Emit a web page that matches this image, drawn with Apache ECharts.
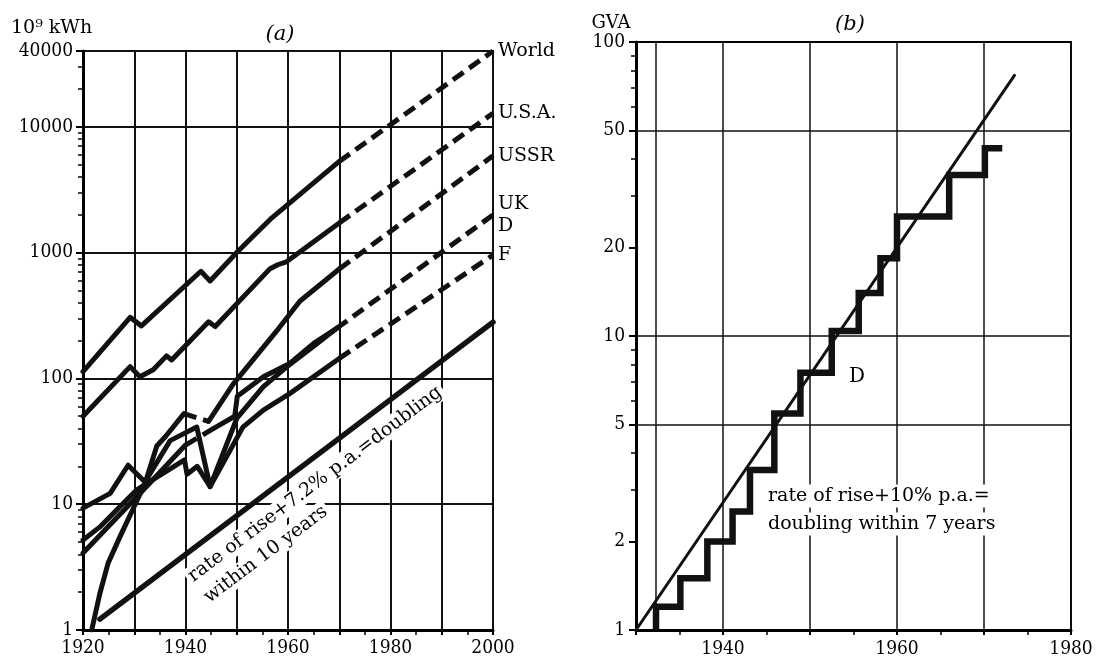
<!DOCTYPE html>
<html><head><meta charset="utf-8">
<script src="https://cdn.jsdelivr.net/npm/echarts@6/dist/echarts.min.js"></script>
<style>html,body{margin:0;padding:0;background:#fff}#c{width:1097px;height:661px}</style>
</head><body><div id="c"></div>
<script>
// ---------- Panel (a): electricity generation, 10^9 kWh ----------
const worldHist = [[1920,113],[1929.2,306],[1931.4,261],[1943,710],[1944.8,595],[1950,1000],[1956.8,1880],[1970,5300]];
const worldProj = [[1970,5300],[2000,40000]];
const usaHist = [[1920,50],[1929.2,124],[1931.1,103],[1933.7,117],[1936.3,151],[1937.3,140],[1944.5,282],[1945.8,258],[1956.5,745],[1958,800],[1959.7,845],[1970,1720]];
const usaProj = [[1970,1720],[2000,12800]];
const ussrHist1 = [[1921.7,1],[1923.3,1.96],[1924.9,3.4],[1927.2,5.5],[1930.1,9.8],[1932.1,14.6],[1934.4,29],[1936.1,34.5],[1939.7,52.5]];
const ussrGap = [[1939.7,52.5],[1944.5,45.5]];
const ussrHist2 = [[1944.5,45.5],[1949.3,90],[1958.2,250],[1962.3,410],[1970,740]];
const ussrProj = [[1970,740],[2000,5870]];
const ukHist1 = [[1920,4.1],[1931.8,13],[1940,29.5]];
const ukGap = [[1940,29.5],[1945.5,40]];
const ukHist2 = [[1945.5,40],[1949.6,50],[1950.1,72],[1955.2,103],[1960.4,132],[1965,190],[1969.5,250]];
const dHist = [[1920,9.3],[1925.3,12.2],[1928.8,20.4],[1932.1,15],[1937,32],[1942.2,41],[1944.8,13.8],[1950,48],[1955.2,86],[1959.7,123],[1965,180],[1969.5,250]];
const ukdProj = [[1969.5,250],[2000,1990]];
const fHist = [[1920,5.2],[1923.3,6.6],[1926.9,9.3],[1930.5,13],[1932.4,14.6],[1936,18],[1939.8,22.5],[1940.3,17.3],[1942.3,20],[1944.8,13.8],[1951.2,41],[1955.2,56],[1960.4,76],[1970,144]];
const fProj = [[1970,144],[2000,955]];
const rateA = [[1923.3,1.22],[2000,280]];

const aXLabels = [1920,1940,1960,1980,2000];
const aYLabels = [1,10,100,1000,10000,40000];
const aYMinor = [2,3,4,5,6,7,8,9,20,30,40,50,60,70,80,90,200,300,400,500,600,700,800,900,2000,3000,4000,5000,6000,7000,8000,9000,20000,30000];

// ---------- Panel (b): installed capacity D, GVA ----------
const stepYears  = [1932.3,1935.1,1938.2,1941.1,1943.1,1945.9,1948.9,1952.5,1955.6,1958.1,1960.0,1966.0,1970.1,1972.1];
const stepLevels = [1.0,1.2,1.5,2.0,2.53,3.5,5.45,7.5,10.4,14,18.4,25.5,35.3,43.5];
const trendB = [[1930,1.0],[1973.5,77]];

const bXLabels = [1940,1960,1980];
const bYLabels = [1,2,5,10,20,50,100];
const bYMinor = [3,4,6,7,8,9,30,40,60,70,80,90];
const bYGrid = [5,10,50];
const bXGrid = [1932.3];

const SERIF = '"DejaVu Serif", serif';
const NUMF = '"DejaVu Serif Condensed", "DejaVu Serif", serif';
const BLACK = '#111';

function solid(data, w, extra) {
  return Object.assign({type:'line', xAxisIndex:0, yAxisIndex:0, data:data, symbol:'none', silent:true,
    animation:false, emphasis:{disabled:true},
    lineStyle:{color:BLACK, width:w||5, join:'round', cap:'round'}}, extra||{});
}
function dashed(data, label, extra) {
  const s = solid(data, 5, extra);
  s.lineStyle = {color:BLACK, width:5, type:[13,7], cap:'butt', join:'round'};
  if (label) {
    s.endLabel = {show:true, formatter:label, distance:5, color:'#000', fontFamily:SERIF, fontSize:19, lineHeight:22, align:'left'};
  }
  return s;
}

const chart = echarts.init(document.getElementById('c'), null, {renderer:'canvas'});

const option = {
  backgroundColor:'#fff',
  animation:false,
  grid:[
    {left:83, top:51, width:410, height:579, show:true, borderColor:'#000', borderWidth:2, backgroundColor:'transparent'},
    {left:636, top:42, width:435, height:588, show:true, borderColor:'#000', borderWidth:2, backgroundColor:'transparent'}
  ],
  xAxis:[
    {gridIndex:0, type:'value', min:1920, max:2000, interval:10,
     axisLine:{show:true, lineStyle:{color:'#000', width:3}},
     axisTick:{show:true, length:5, lineStyle:{color:'#000', width:2}},
     minorTick:{show:true, splitNumber:2, length:5, lineStyle:{color:'#000', width:1.5}},
     axisLabel:{formatter:function(v){return aXLabels.indexOf(v)>=0 ? String(v) : '';}, color:'#000', fontFamily:NUMF, fontSize:19, margin:9},
     splitLine:{show:true, lineStyle:{color:BLACK, width:2}}},
    {gridIndex:1, type:'value', min:1930, max:1980, interval:10,
     axisLine:{show:true, lineStyle:{color:'#000', width:3}},
     axisTick:{show:true, length:5, lineStyle:{color:'#000', width:2}},
     minorTick:{show:true, splitNumber:2, length:5, lineStyle:{color:'#000', width:1.5}},
     axisLabel:{formatter:function(v){return bXLabels.indexOf(v)>=0 ? String(v) : '';}, color:'#000', fontFamily:NUMF, fontSize:19, margin:10},
     splitLine:{show:true, lineStyle:{color:BLACK, width:1.5}}}
  ],
  yAxis:[
    {gridIndex:0, type:'log', logBase:10, min:1, max:40000, position:'left',
     axisLine:{show:true, lineStyle:{color:'#000', width:3}},
     axisTick:{show:true, customValues:aYLabels, length:7, lineStyle:{color:'#000', width:2}},
     axisLabel:{customValues:aYLabels, formatter:function(v){return String(Math.round(v));}, color:'#000', fontFamily:NUMF, fontSize:19, margin:10},
     splitLine:{show:true, lineStyle:{color:BLACK, width:2}}},
    {gridIndex:0, type:'log', logBase:10, min:1, max:40000, position:'left',
     axisLine:{show:false}, axisLabel:{show:false}, splitLine:{show:false},
     axisTick:{show:true, customValues:aYMinor, length:5, lineStyle:{color:'#000', width:1.5}}},
    {gridIndex:1, type:'log', logBase:10, min:1, max:100, position:'left',
     axisLine:{show:true, lineStyle:{color:'#000', width:3}},
     axisTick:{show:true, customValues:bYLabels, length:7, lineStyle:{color:'#000', width:2}},
     axisLabel:{customValues:bYLabels, formatter:function(v){return String(Math.round(v));}, color:'#000', fontFamily:NUMF, fontSize:19, margin:11},
     splitLine:{show:false}},
    {gridIndex:1, type:'log', logBase:10, min:1, max:100, position:'left',
     axisLine:{show:false}, axisLabel:{show:false}, splitLine:{show:false},
     axisTick:{show:true, customValues:bYMinor, length:5, lineStyle:{color:'#000', width:1.5}}}
  ],
  series:[
    solid(worldHist), dashed(worldProj, 'World'),
    solid(usaHist), dashed(usaProj, 'U.S.A.'),
    solid(ussrHist1), dashed(ussrGap), solid(ussrHist2), dashed(ussrProj, 'USSR'),
    solid(ukHist1), dashed(ukGap), solid(ukHist2),
    solid(dHist), dashed(ukdProj, 'UK\nD'),
    solid(fHist), dashed(fProj, 'F'),
    solid(rateA, 5.5),
    solid(stepYears.map(function(y,i){return [y, stepLevels[i]];}), 6.5,
      {xAxisIndex:1, yAxisIndex:2, step:'start', lineStyle:{color:BLACK, width:6.5, join:'miter', cap:'butt'},
       markLine:{silent:true, symbol:'none', animation:false, label:{show:false}, emphasis:{disabled:true},
         lineStyle:{color:BLACK, width:1.5, type:'solid'},
         data: bYGrid.map(function(v){return {yAxis:v};}).concat(bXGrid.map(function(v){return {xAxis:v};}))}}),
    solid(trendB, 3, {xAxisIndex:1, yAxisIndex:2})
  ],
  graphic:[
    {type:'text', x:11, y:28, z:10, style:{text:'10⁹ kWh', fill:'#000', font:'19px ' + SERIF, align:'left', verticalAlign:'middle'}},
    {type:'text', x:280, y:35, z:10, style:{text:'(a)', fill:'#000', font:'italic 21px ' + SERIF, align:'center', verticalAlign:'middle'}},
    {type:'text', x:611, y:23, z:10, style:{text:'GVA', fill:'#000', font:'18px ' + SERIF, align:'center', verticalAlign:'middle'}},
    {type:'text', x:850, y:25, z:10, style:{text:'(b)', fill:'#000', font:'italic 21px ' + SERIF, align:'center', verticalAlign:'middle'}},
    {type:'text', x:188, y:580, z:1, rotation:37*Math.PI/180,
     style:{text:'rate of rise+7.2% p.a.=doubling', fill:'#000', font:'19px ' + SERIF, align:'left', verticalAlign:'middle', backgroundColor:'#fff', padding:[1,3]}},
    {type:'text', x:204, y:601, z:1, rotation:37*Math.PI/180,
     style:{text:'within 10 years', fill:'#000', font:'19px ' + SERIF, align:'left', verticalAlign:'middle', backgroundColor:'#fff', padding:[1,3]}},
    {type:'text', x:765, y:496, z:1,
     style:{text:'rate of rise+10% p.a.=', fill:'#000', font:'19px ' + SERIF, align:'left', verticalAlign:'middle', backgroundColor:'#fff', padding:[2,3]}},
    {type:'text', x:765, y:524, z:1,
     style:{text:'doubling within 7 years', fill:'#000', font:'19px ' + SERIF, align:'left', verticalAlign:'middle', backgroundColor:'#fff', padding:[2,3]}},
    {type:'text', x:857, y:377, z:10, style:{text:'D', fill:'#000', font:'20px ' + SERIF, align:'center', verticalAlign:'middle'}}
  ]
};
chart.setOption(option);
</script>
</body></html>
